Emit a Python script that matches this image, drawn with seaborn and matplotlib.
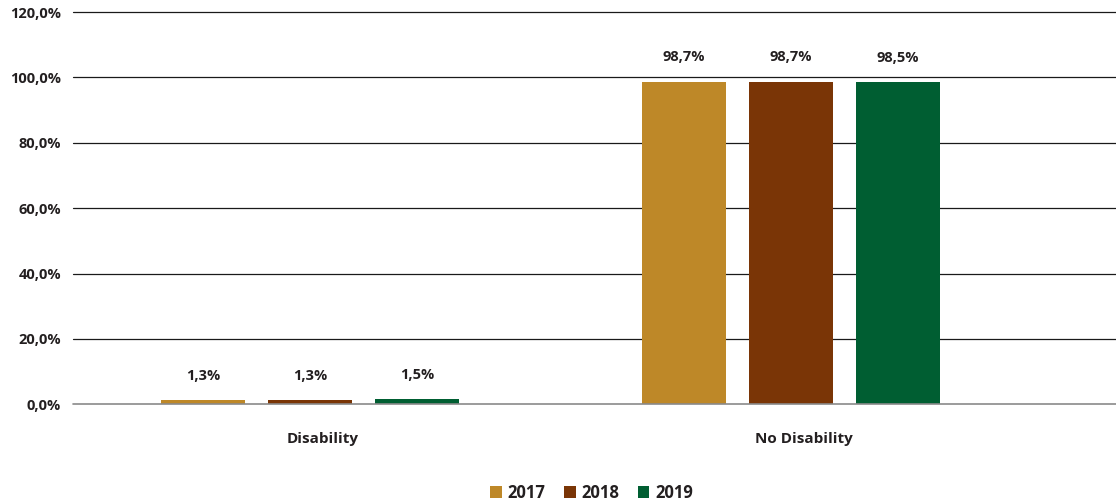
import matplotlib
matplotlib.use('Agg')
import matplotlib.pyplot as plt
import matplotlib.transforms as mtransforms
import seaborn as sns
import pandas as pd
from matplotlib.ticker import FuncFormatter

categories = ['Disability', 'No Disability']
years = ['2017', '2018', '2019']
values_2017 = [1.3, 98.7]
values_2018 = [1.3, 98.7]
values_2019 = [1.5, 98.5]
colors = ['#BE8828', '#7A3506', '#005E32']

rows = []
for year, vals in zip(years, [values_2017, values_2018, values_2019]):
    for cat, v in zip(categories, vals):
        rows.append({'category': cat, 'year': year, 'value': v})
df = pd.DataFrame(rows)

sns.set_theme(style='white')
plt.rcParams['font.family'] = ['Open Sans', 'DejaVu Sans']
plt.rcParams['font.weight'] = 'bold'

fig = plt.figure(figsize=(11.16, 5.04), dpi=100)
ax = fig.add_axes([0.0654, 0.198, 0.9346, 0.778])

sns.barplot(data=df, x='category', y='value', hue='year', palette=colors,
            width=0.667, gap=0.21, saturation=1, linewidth=0, ax=ax, zorder=3)

# horizontal grid
for y in range(0, 121, 20):
    ax.axhline(y, color='#8a8a8a' if y == 0 else '#1a1a1a', lw=1.2 if y == 0 else 0.9,
               zorder=1 if y else 4, clip_on=False)

ax.set_ylim(0, 120)
ax.set_xlim(-0.493, 1.676)
ax.set_yticks(range(0, 121, 20))
ax.yaxis.set_major_formatter(FuncFormatter(lambda v, p: f'{v:.1f}%'.replace('.', ',')))
ax.tick_params(axis='y', length=0, pad=8.5, labelsize=10.5, colors='#231f20')
ax.tick_params(axis='x', length=0, pad=20, labelsize=11, colors='#231f20')
for lab in ax.get_yticklabels():
    lab.set_fontweight('bold')
shift = mtransforms.ScaledTranslation(13 / 100, 0, fig.dpi_scale_trans)
for lab in ax.get_xticklabels():
    lab.set_fontweight('bold')
    lab.set_transform(lab.get_transform() + shift)
ax.set_xlabel('')
ax.set_ylabel('')
for s in ax.spines.values():
    s.set_visible(False)

for cont in ax.containers:
    for bar in cont:
        h = bar.get_height()
        ax.annotate(f'{h:.1f}%'.replace('.', ','),
                    (bar.get_x() + bar.get_width() / 2, h),
                    xytext=(0, 17.5), textcoords='offset points',
                    ha='center', va='center', fontsize=10.5,
                    fontweight='bold', color='#231f20')

leg = ax.legend(loc='center', bbox_to_anchor=(0.5 - 0.0654 / 2 + 0.03, -0.226),
                ncol=3, frameon=False, handlelength=0.7, handleheight=0.7,
                handletextpad=0.35, columnspacing=1.1, fontsize=12)
for t in leg.get_texts():
    t.set_fontweight('bold')
    t.set_color('#231f20')

fig.savefig('out.png', dpi=100)
